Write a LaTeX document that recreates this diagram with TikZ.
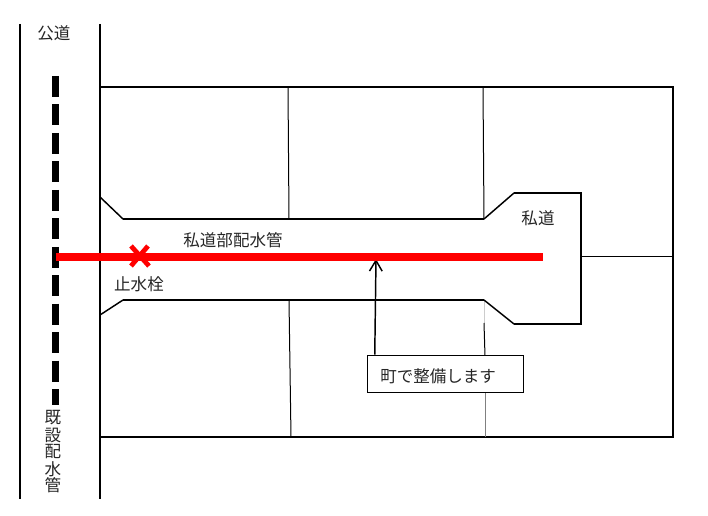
\documentclass[tikz,border=0pt]{standalone}
\usepackage{fontspec}
\setmainfont{Noto Sans CJK JP}
\usetikzlibrary{arrows.meta}
\tikzset{
  px/.style={x=0.75pt,y=-0.75pt},
  thickline/.style={line width=1.75pt,line cap=butt,line join=miter},
  roadline/.style={line width=1.75pt},
  slant/.style={line width=1.1pt},
  divider/.style={line width=0.75pt},
  label/.style={inner sep=0pt,font=\fontsize{12.4pt}{13.4pt}\selectfont,text=black!85},
}
\begin{document}
\begin{tikzpicture}[px]
\useasboundingbox[fill=white] (0,0) rectangle (708,516);
% public road
\draw[roadline] (20,24) -- (20,499);
\draw[roadline] (100,24) -- (100,499);
% existing main
\draw[line width=5.25pt,dash pattern=on 15.75pt off 5.6pt] (55,76) -- (55,405);
% lots
\draw[thickline] (100,87) -- (673,87) -- (673,437) -- (100,437);
\draw[divider] (288,87) -- (289,219);
\draw[divider] (483,87) -- (484,219);
\draw[divider] (289,300) -- (291,437);
\draw[divider,black!20] (484,300) -- (484,323);
\draw[divider] (484,323) -- (485,356);
\draw[divider,black!50] (485,392) -- (485,437);
\draw[divider] (581,257) -- (673,257);
% private road
\draw[slant] (100,197) -- (123,219);
\draw[thickline] (123,219) -- (484,219);
\draw[slant] (484,219) -- (514,193);
\draw[thickline] (514,193) -- (581,193) -- (581,324) -- (514,324);
\draw[slant] (514,324) -- (484,300);
\draw[thickline] (484,300) -- (123,300);
\draw[slant] (123,300) -- (100,315);
% callout
\node[draw=black,fill=white,line width=0.6pt,minimum width=117.5pt,minimum height=27.75pt,inner sep=0pt,anchor=center] (note) at (445.5,373.5) {};
\node[label,anchor=west] (notetext) at (380,376) {町で整備します};
\coordinate (tip) at (376,259);
\draw[line width=1.1pt,-{Straight Barb[length=8pt,width=9.5pt,line width=1.1pt]}] ([xshift=6pt]note.north west) -- (tip);
% new main
\coordinate (mainL) at (56,257);
\coordinate (mainR) at (543,257);
\draw[red,line width=6pt] (mainL) -- (mainR);
% stop valve cross
\coordinate (valve) at (140,256);
\draw[red,line width=3.6pt] (131,246) -- (149,266);
\draw[red,line width=3.6pt] (148,246) -- (131,266);
% labels
\node[label] (road) at (54,33) {公道};
\node[label] (pipe) at (233,240) {私道部配水管};
\node[label] (stop) at (139,284) {止水栓};
\node[label] (priv) at (538,218) {私道};
\node[label] (k1) at (53,418) {既};
\node[label] (k2) at (53,435) {設};
\node[label] (k3) at (53,452) {配};
\node[label] (k4) at (53,469) {水};
\node[label] (k5) at (53,485) {管};
\end{tikzpicture}
\end{document}
